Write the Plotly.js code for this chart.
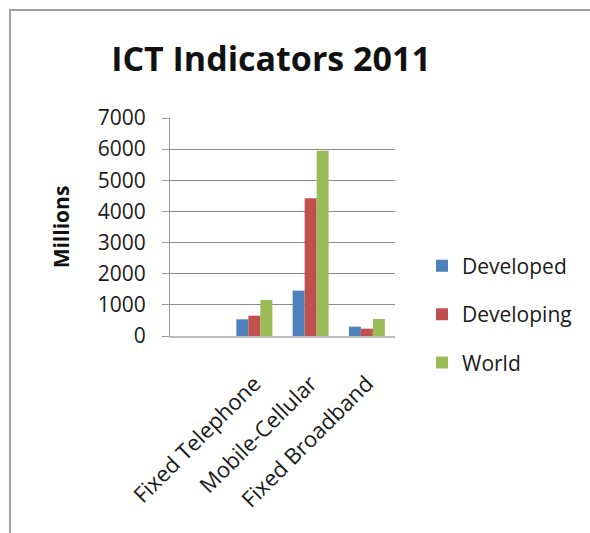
<!DOCTYPE html>
<html>
<head>
<meta charset="utf-8">
<script src="https://cdn.plot.ly/plotly-3.0.1.min.js"></script>
<style>
  html, body { margin: 0; padding: 0; background: #fff; }
  #chart { position: absolute; left: 0; top: 0; width: 590px; height: 533px; }
  #frame { position: absolute; left: 9px; top: 9px; width: 600px; height: 600px;
           border-top: 2px solid #a0a0a0; border-left: 2px solid #a0a0a0; pointer-events: none; }
</style>
</head>
<body>
<div id="chart"></div>
<div id="frame"></div>
<script>
const categories = ["Fixed Telephone", "Mobile-Cellular", "Fixed Broadband"];
const developed = [536, 1455, 300];
const developing = [652, 4422, 235];
const world = [1156, 5950, 546];
const seriesNames = ["Developed", "Developing", "World"];
const seriesColors = ["#4F81BD", "#C0504D", "#9BBB59"];
const yTicks = [0, 1000, 2000, 3000, 4000, 5000, 6000, 7000];

const FONT = "Open Sans, sans-serif";
const values = [developed, developing, world];
const traces = values.map((v, i) => ({
  type: "bar",
  name: seriesNames[i],
  x: categories,
  y: v,
  marker: { color: seriesColors[i] },
  legendgroup: "g" + i,
  hoverinfo: "skip"
}));

const layout = {
  width: 590, height: 533,
  margin: { l: 170, r: 195, t: 118, b: 197 },
  paper_bgcolor: "#ffffff",
  plot_bgcolor: "#ffffff",
  barmode: "group",
  bargap: 0.36,
  bargroupgap: 0,
  font: { family: FONT, color: "#1a1a1a" },
  title: {
    text: "<b>ICT Indicators 2011</b>",
    font: { family: FONT, size: 34, color: "#111" },
    x: 271 / 590, xanchor: "center",
    y: 1 - 59 / 533, yanchor: "middle"
  },
  xaxis: {
    type: "category",
    categoryorder: "array",
    categoryarray: categories,
    range: [-1.5, 2.5],
    tickangle: -45,
    tickfont: { family: FONT, size: 22, color: "#1a1a1a" },
    ticks: "",
    showgrid: false,
    showline: true,
    linecolor: "#bdbdbd",
    linewidth: 2,
    ticklabelstandoff: 24,
    zeroline: false
  },
  yaxis: {
    range: [0, 7000],
    tickvals: yTicks,
    ticktext: yTicks.map(String),
    tickfont: { family: FONT, size: 21, color: "#1a1a1a" },
    ticks: "outside",
    ticklen: 7,
    tickcolor: "#999",
    showgrid: true,
    gridcolor: "#8c8c8c",
    gridwidth: 1,
    showline: true,
    linecolor: "#999",
    linewidth: 1,
    zeroline: false,
    ticklabelstandoff: 12,
    title: {
      text: "<b>Millions</b>",
      font: { family: FONT, size: 21, color: "#111" },
      standoff: 22
    }
  },
  showlegend: true,
  legend: {
    x: 1.12, xanchor: "left",
    y: 0.1, yanchor: "middle",
    traceorder: "grouped",
    tracegroupgap: 18,
    font: { family: FONT, size: 21, color: "#1a1a1a" },
    bgcolor: "rgba(0,0,0,0)",
    itemwidth: 30
  }
};

Plotly.newPlot("chart", traces, layout, { staticPlot: true, displayModeBar: false });
</script>
</body>
</html>
